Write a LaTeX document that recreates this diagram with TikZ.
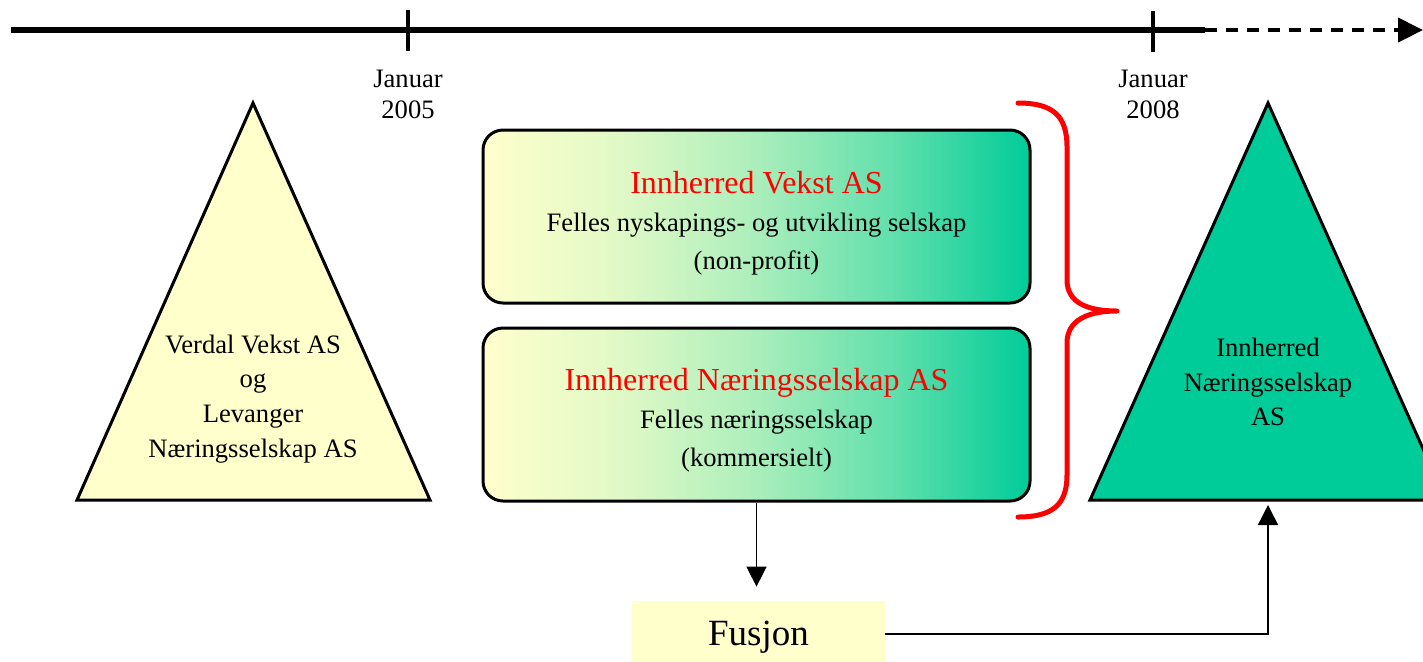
\documentclass[tikz,border=0pt]{standalone}
\usepackage{fontspec}
\setmainfont{Liberation Serif}
\usetikzlibrary{arrows.meta}
\definecolor{lyellow}{HTML}{FFFFCC}
\definecolor{tgreen}{HTML}{00CC99}
\colorlet{gA}{tgreen!12!lyellow}
\colorlet{gB}{tgreen!33!lyellow}
\colorlet{gC}{tgreen!62!lyellow}
\pgfdeclarehorizontalshading{ygshade}{100bp}{color(0bp)=(lyellow); color(25bp)=(lyellow); color(37.5bp)=(gA); color(50bp)=(gB); color(62.5bp)=(gC); color(75bp)=(tgreen); color(100bp)=(tgreen)}
\begin{document}
\begin{tikzpicture}[x=0.5pt,y=-0.5pt,
  lbl/.style={font=\fontsize{13.3}{15.5}\selectfont, align=center, inner sep=0pt},
  trilbl/.style={font=\fontsize{13.3}{17.4}\selectfont, align=center, inner sep=0pt},
  boxlbl/.style={font=\fontsize{13.3}{19}\selectfont, align=center, inner sep=0pt},
  tri/.style={draw=black, line width=1.5pt, line join=miter},
  gbox/.style={draw=black, line width=1.5pt, rounded corners=10pt, shading=ygshade, minimum width=273.5pt, minimum height=86.5pt, inner sep=0pt},
  fusbox/.style={fill=lyellow, minimum width=126.5pt, minimum height=33pt, inner sep=0pt},
  conn/.style={line width=0.75pt, -{Triangle[length=10pt,width=10pt]}},
  tick/.style={line width=2pt},
  brace/.style={draw=red, line width=2.5pt, line cap=round, line join=round}
]
\clip (0,0) rectangle (1423,661);
% timeline
\coordinate (tl0) at (11,30);
\coordinate (tl1) at (1205,30);
\coordinate (tl2) at (1423,30);
\draw[line width=3pt] (tl0) -- (tl1);
\draw[line width=2pt, dash pattern=on 6pt off 4.5pt, -{Triangle[length=12.5pt,width=12pt]}] (tl1) -- (tl2);
\draw[tick] (408,10) -- (408,51);
\draw[tick] (1153,11) -- (1153,52);
\node[lbl] (j2005) at (408,94.5) {Januar\\2005};
\node[lbl] (j2008) at (1153,94.5) {Januar\\2008};
% triangles
\draw[tri, fill=lyellow] (253,103) -- (430,500) -- (77,500) -- cycle;
\draw[tri, fill=tgreen] (1268,103) -- (1446,500) -- (1090,500) -- cycle;
\coordinate (rbase) at (1268,500);
\node[trilbl] (ltxt) at (253,399) {Verdal Vekst AS\\og\\Levanger\\Næringsselskap AS};
\node[trilbl] (rtxt) at (1268,382) {Innherred\\Næringsselskap\\AS};
% boxes
\node[gbox] (box1) at (756.5,216.5) {};
\node[gbox] (box2) at (756.5,414.5) {};
\node[boxlbl] (t1) at (756.5,223) {{\color{red}\fontsize{16}{19}\selectfont Innherred Vekst AS}\\Felles nyskapings- og utvikling selskap\\(non-profit)};
\node[boxlbl] (t2) at (756.5,420) {{\color{red}\fontsize{16}{19}\selectfont Innherred Næringsselskap AS}\\Felles næringsselskap\\(kommersielt)};
% brace
\draw[brace] (1018,103) .. controls (1052,103) and (1067,115) .. (1067,147)
  -- (1067,280) .. controls (1067,303) and (1088,311) .. (1117,311)
  .. controls (1088,311) and (1067,320) .. (1067,343)
  -- (1067,475) .. controls (1067,505) and (1052,517) .. (1018,517);
% fusjon
\node[fusbox] (fus) at (758.5,634) {};
\node[inner sep=0pt, font=\fontsize{18.5}{20}\selectfont] (fustxt) at (758.5,637) {Fusjon};
\draw[conn, shorten >=7pt] (box2.south) -- (box2.south |- fus.north);
\draw[conn, shorten >=2.5pt] (fus.east) -| (rbase);
\end{tikzpicture}
\end{document}
